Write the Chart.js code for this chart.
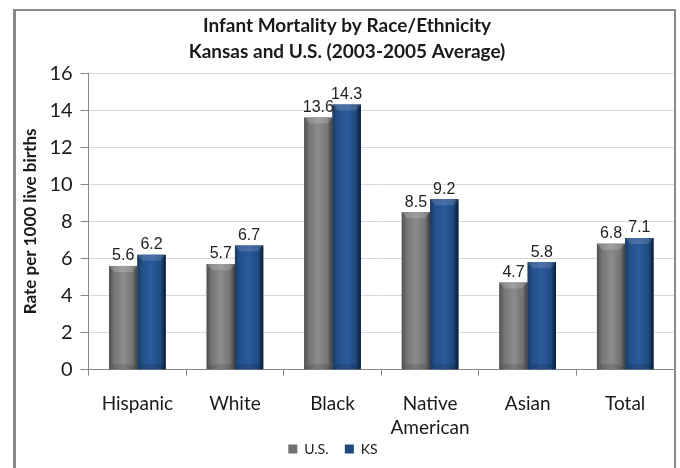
<!DOCTYPE html>
<html>
<head>
<meta charset="utf-8">
<script src="https://cdn.jsdelivr.net/npm/chart.js@4/dist/chart.umd.min.js"></script>
<style>
	html, body { margin: 0; padding: 0; background: #fff; }
	#wrap { position: relative; width: 680px; height: 468px; }
</style>
</head>
<body>
<div id="wrap"><canvas id="myChart" width="680" height="468"></canvas></div>
<script>
const categories = ["Hispanic", "White", "Black", ["Native", "American"], "Asian", "Total"];
const usRates = [5.6, 5.7, 13.6, 8.5, 4.7, 6.8];
const ksRates = [6.2, 6.7, 14.3, 9.2, 5.8, 7.1];
const yTicks = [0, 2, 4, 6, 8, 10, 12, 14, 16];

// frame round the chart (no bottom edge, like the cut-off original)
const framePlugin = {
	id: "frame",
	beforeDraw(chart) {
		const c = chart.ctx;
		c.save();
		c.fillStyle = "#8a8a8a";
		c.fillRect(13, 9, 3, 468);
		c.fillRect(13, 9, 663, 2);
		c.fillRect(674, 9, 2, 468);
		c.restore();
		// legend sits a little left of centre in the original
		if (!chart.$legendMoved) {
			chart.legend.left -= 14;
			chart.legend.right -= 14;
			chart.$legendMoved = true;
		}
	},
};

// cylinder-ish shading with a small bevel, drawn over each bar the library placed
const shadePlugin = {
	id: "shade",
	afterDatasetsDraw(chart) {
		const c = chart.ctx;
		const stops = [
			["#505050", "#767676", "#8c8c8c", "#747474", "#3e3e3e"],
			["#173a68", "#24508a", "#2a5b9b", "#204a80", "#0b1a30"],
		];
		const bevel = ["rgba(255,255,255,0.18)", "rgba(255,255,255,0.14)"];
		c.save();
		chart.data.datasets.forEach(function (ds, i) {
			chart.getDatasetMeta(i).data.forEach(function (bar) {
				const half = bar.width / 2;
				const left = bar.x - half;
				const right = bar.x + half;
				const g = c.createLinearGradient(left, 0, right, 0);
				g.addColorStop(0, stops[i][0]);
				g.addColorStop(0.18, stops[i][1]);
				g.addColorStop(0.5, stops[i][2]);
				g.addColorStop(0.82, stops[i][3]);
				g.addColorStop(1, stops[i][4]);
				c.fillStyle = g;
				c.fillRect(left, bar.y, bar.width, bar.base - bar.y);
				// top bevel
				c.fillStyle = bevel[i];
				c.beginPath();
				c.moveTo(left, bar.y);
				c.lineTo(right, bar.y);
				c.lineTo(right - 5, bar.y + 6);
				c.lineTo(left + 5, bar.y + 6);
				c.closePath();
				c.fill();
				// bottom bevel
				c.fillStyle = "rgba(0,0,0,0.12)";
				c.beginPath();
				c.moveTo(left, bar.base);
				c.lineTo(right, bar.base);
				c.lineTo(right - 5, bar.base - 5);
				c.lineTo(left + 5, bar.base - 5);
				c.closePath();
				c.fill();
			});
		});
		c.restore();
	},
};

// value labels above bars
const labelPlugin = {
	id: "valueLabels",
	afterDatasetsDraw(chart) {
		const c = chart.ctx;
		c.save();
		c.font = "16px 'Liberation Sans', Arial, sans-serif";
		c.fillStyle = "#222";
		c.textAlign = "center";
		c.textBaseline = "bottom";
		chart.data.datasets.forEach(function (ds, i) {
			chart.getDatasetMeta(i).data.forEach(function (bar, j) {
				c.fillText(ds.data[j].toFixed(1), bar.x, bar.y - 2);
			});
		});
		c.restore();
	},
};

const ctx = document.getElementById("myChart").getContext("2d");
const myChart = new Chart(ctx, {
	type: "bar",
	data: {
		labels: categories,
		datasets: [
			{
				label: "U.S.",
				data: usRates,
				backgroundColor: "#6f6f6f",
				categoryPercentage: 0.58,
				barPercentage: 1.0,
			},
			{
				label: "KS",
				data: ksRates,
				backgroundColor: "#1f497d",
				categoryPercentage: 0.58,
				barPercentage: 1.0,
			},
		],
	},
	options: {
		responsive: false,
		animation: false,
		layout: {
			padding: { left: 20, right: 6, top: 13, bottom: 2 },
		},
		plugins: {
			title: {
				display: true,
				text: ["Infant Mortality by Race/Ethnicity", "Kansas and U.S. (2003-2005 Average)"],
				color: "#1a1a1a",
				font: { family: "Lato", size: 19, weight: "bold", lineHeight: 1.37 },
				padding: { top: 0, bottom: 8 },
			},
			legend: {
				position: "bottom",
				labels: {
					boxWidth: 9,
					boxHeight: 9,
					padding: 2,
					color: "#1a1a1a",
					font: { family: "Lato", size: 14 },
					generateLabels: function (chart) {
						const items = Chart.defaults.plugins.legend.labels.generateLabels(chart);
						// wider gap between the two entries without a taller legend
						items[0].text += "    ";
						return items;
					},
				},
			},
			tooltip: { enabled: false },
		},
		scales: {
			x: {
				afterFit: function (scale) {
					scale.height -= 16;
				},
				grid: {
					offset: true,
					drawOnChartArea: false,
					tickColor: "#888",
					tickLength: 6,
				},
				border: { color: "#888" },
				ticks: {
					color: "#1a1a1a",
					padding: 16,
					font: { family: "Lato", size: 19, lineHeight: 1.27 },
				},
			},
			y: {
				min: 0,
				max: 16,
				afterBuildTicks: function (axis) {
					axis.ticks = yTicks.map(function (v) { return { value: v }; });
				},
				grid: {
					color: "#d9d9d9",
					tickColor: "#888",
					tickLength: 8,
				},
				border: { color: "#888" },
				ticks: {
					color: "#1a1a1a",
					padding: 8,
					font: { family: "Lato", size: 20 },
				},
				title: {
					display: true,
					text: "Rate per 1000 live births",
					color: "#1a1a1a",
					font: { family: "Lato", size: 17, weight: "bold" },
					padding: { top: 0, bottom: 1 },
				},
			},
		},
	},
	plugins: [framePlugin, shadePlugin, labelPlugin],
});
</script>
</body>
</html>
